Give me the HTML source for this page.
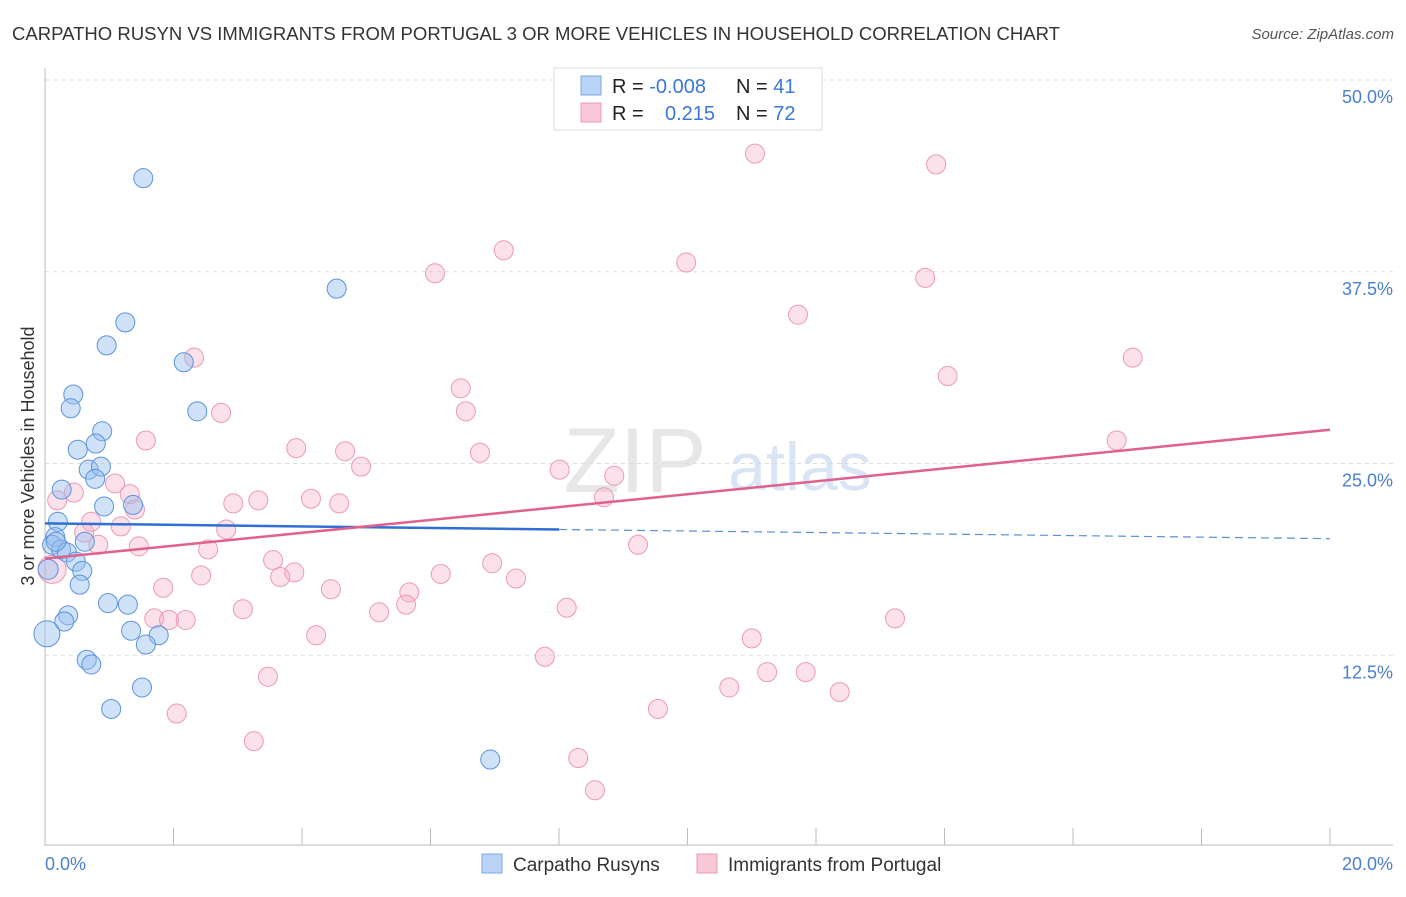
<!DOCTYPE html>
<html><head><meta charset="utf-8"><style>
body{margin:0;background:#fff;font-family:"Liberation Sans",sans-serif;}
svg text{font-family:"Liberation Sans",sans-serif;}
</style></head><body>
<svg width="1406" height="892" viewBox="0 0 1406 892">
<text x="12" y="40" font-size="18" fill="#333" textLength="1048" lengthAdjust="spacingAndGlyphs">CARPATHO RUSYN VS IMMIGRANTS FROM PORTUGAL 3 OR MORE VEHICLES IN HOUSEHOLD CORRELATION CHART</text>
<text x="1394" y="39" font-size="15" fill="#555" font-style="italic" text-anchor="end">Source: ZipAtlas.com</text>
<g id="grid"></g>
<g><text x="635" y="492" font-size="92" fill="#ddd" font-family="Liberation Serif" text-anchor="middle" opacity="0.7">ZIP</text><text x="800" y="490" font-size="68" fill="#c9daf0" text-anchor="middle" opacity="0.7">atlas</text></g>
<g id="axes"></g>
<g id="pts"></g>
<g id="lines"></g>
<text transform="translate(34,456) rotate(-90)" font-size="18" fill="#333" text-anchor="middle">3 or more Vehicles in Household</text>
<text x="45" y="870" font-size="18" fill="#4a7fd0">0.0%</text>
<text x="1393" y="870" font-size="18" fill="#4a7fd0" text-anchor="end">20.0%</text>
<g>
<rect x="554" y="68" width="268" height="62" fill="#fff" stroke="#ddd"/>
<rect x="581" y="76" width="20" height="19" fill="#b8d3f5" stroke="#7aa7e3"/>
<rect x="581" y="103" width="20" height="19" fill="#f8c8d6" stroke="#eb9db5"/>
<text x="612" y="93" font-size="20" fill="#222">R = <tspan fill="#3b78d8">-0.008</tspan></text>
<text x="736" y="93" font-size="20" fill="#222">N = <tspan fill="#3b78d8">41</tspan></text>
<text x="612" y="120" font-size="20" fill="#222">R = <tspan fill="#3b78d8" x="665">0.215</tspan></text>
<text x="736" y="120" font-size="20" fill="#222">N = <tspan fill="#3b78d8">72</tspan></text>
</g>
<g>
<rect x="482" y="854" width="20" height="19" fill="#b8d3f5" stroke="#7aa7e3"/>
<text x="513" y="871" font-size="19" fill="#333">Carpatho Rusyns</text>
<rect x="697" y="854" width="20" height="19" fill="#f8c8d6" stroke="#eb9db5"/>
<text x="728" y="871" font-size="19" fill="#333">Immigrants from Portugal</text>
</g>
</svg>
<script>
const yTicks=[12.5,25,37.5,50];
const yTickLabels=["12.5%","25.0%","37.5%","50.0%"];
const blueX=[1.53,4.54,1.25,0.96,2.16,0.44,0.40,2.37,0.89,0.51,0.79,0.68,0.87,0.78,0.26,1.37,0.92,0.20,0.16,0.11,0.25,0.62,0.34,0.48,0.05,0.58,0.54,0.98,1.29,0.36,0.30,1.34,1.77,0.03,1.57,0.65,0.72,1.51,1.03,6.93,0.17];
const blueY=[43.6,36.4,34.2,32.7,31.6,29.5,28.6,28.4,27.1,25.9,26.3,24.6,24.8,24.0,23.3,22.3,22.2,21.2,20.2,19.7,19.4,19.9,19.2,18.6,18.1,18.0,17.1,15.9,15.8,15.1,14.7,14.1,13.8,13.9,13.2,12.2,11.9,10.4,9.0,5.7,19.9];
const blueR=[9.5,9.5,9.5,9.5,9.5,9.5,9.5,9.5,9.5,9.5,9.5,9.5,9.5,9.5,9.5,9.5,9.5,9.5,9.5,9.5,9.5,9.5,9.5,9.5,10,9.5,9.5,9.5,9.5,9.5,9.5,9.5,9.5,13,9.5,9.5,9.5,9.5,9.5,9.5,9.5];
const pinkX=[11.05,13.87,7.14,9.98,6.07,13.70,11.72,2.32,16.93,14.05,6.47,6.55,2.74,1.57,16.68,3.91,4.67,6.77,4.92,8.01,8.86,1.09,0.45,1.32,0.19,8.70,4.14,3.32,2.93,4.58,1.40,0.72,1.18,2.82,0.61,0.83,1.46,9.23,2.54,3.55,6.96,0.11,3.88,6.16,3.66,2.43,7.33,1.84,4.45,5.67,5.62,3.08,8.12,5.20,1.70,1.93,2.19,13.23,4.22,11.0,7.78,11.24,11.84,3.47,10.65,12.37,2.05,9.54,3.25,8.30,8.56];
const pinkY=[45.2,44.5,38.9,38.1,37.4,37.1,34.7,31.9,31.9,30.7,29.9,28.4,28.3,26.5,26.5,26.0,25.8,25.7,24.8,24.6,24.2,23.7,23.1,23.0,22.6,22.8,22.7,22.6,22.4,22.4,22.0,21.2,20.9,20.7,20.5,19.7,19.6,19.7,19.4,18.7,18.5,18.1,17.9,17.8,17.6,17.7,17.5,16.9,16.8,16.6,15.8,15.5,15.6,15.3,14.9,14.8,14.8,14.9,13.8,13.6,12.4,11.4,11.4,11.1,10.4,10.1,8.7,9.0,6.9,5.8,3.7];
const blueTrend=[21.1,20.1];
const pinkTrend=[18.8,27.2];
const NS="http://www.w3.org/2000/svg";
const X0=45,X1=1330,Y0=847,YTOP=80;
function sx(v){return X0+(v/20)*(X1-X0);}
function sy(v){return Y0-(v/50)*(Y0-YTOP);}
function mk(tag,attrs,parent){const e=document.createElementNS(NS,tag);for(const k in attrs)e.setAttribute(k,attrs[k]);parent.appendChild(e);return e;}
const grid=document.getElementById('grid'),axes=document.getElementById('axes');
yTicks.forEach((t,i)=>{
  const l=mk('line',{x1:45,x2:1393,y1:sy(t),y2:sy(t),stroke:'#ddd','stroke-dasharray':'4,4'},grid);
  
  
  const tx=mk('text',{x:1393,y:sy(t)+23,'font-size':18,fill:'#4a7fd0','text-anchor':'end'},grid);
  tx.textContent=yTickLabels[i];
  
  
});
mk('line',{x1:45,x2:45,y1:68,y2:846,stroke:'#bbb'},axes);
mk('line',{x1:45,x2:1393,y1:845,y2:845,stroke:'#bbb'},axes);
for(let i=0;i<=10;i++){
  const t=mk('line',{x1:sx(i*2),x2:sx(i*2),y1:828,y2:845,stroke:'#bbb'},axes);
  
  
}
const pts=document.getElementById('pts');
pinkX.forEach((x,i)=>{
  const c=mk('circle',{cx:sx(x),cy:sy(pinkY[i]),r:(i==41?14:9.5),fill:'rgba(245,170,195,0.35)',stroke:'#eb9ab4','stroke-width':1},pts);
  
  
});
blueX.forEach((x,i)=>{
  const c=mk('circle',{cx:sx(x),cy:sy(blueY[i]),r:blueR[i],fill:'rgba(150,190,240,0.45)',stroke:'#5b93dd','stroke-width':1},pts);
  
  
});
const lines=document.getElementById('lines');
const bm=blueTrend[0]+(blueTrend[1]-blueTrend[0])*(8/20);
const b1=mk('line',{x1:sx(0),y1:sy(blueTrend[0]),x2:sx(8),y2:sy(bm),stroke:'#2f6fd6','stroke-width':2.5},lines);


const b2=mk('line',{x1:sx(8),y1:sy(bm),x2:sx(20),y2:sy(blueTrend[1]),stroke:'#5b8fd8','stroke-width':1.2,'stroke-dasharray':'8,5'},lines);


const p1=mk('line',{x1:sx(0),y1:sy(pinkTrend[0]),x2:sx(20),y2:sy(pinkTrend[1]),stroke:'#e0608f','stroke-width':2.5},lines);


</script>
</body></html>
